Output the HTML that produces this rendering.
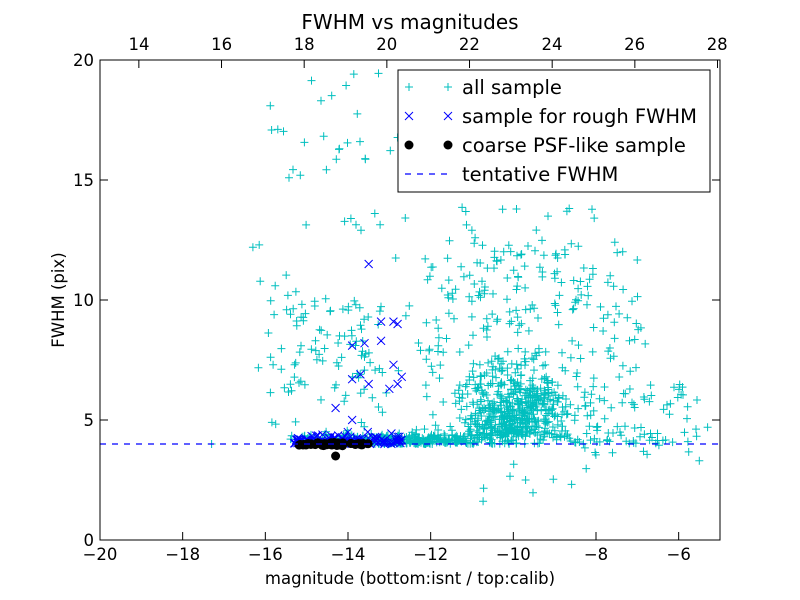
<!DOCTYPE html>
<html><head><meta charset="utf-8"><style>
html,body{margin:0;padding:0;background:#fff;}
svg{display:block;font-family:"DejaVu Sans","Liberation Sans",sans-serif;}
</style></head><body>
<svg id="s" width="800" height="600" viewBox="0 0 800 600" xmlns="http://www.w3.org/2000/svg">
<rect width="800" height="600" fill="#fff"/>
<g id="pts"></g>
<line x1="100" y1="444" x2="720" y2="444" stroke="#0000ff" stroke-width="1.2" stroke-dasharray="6,6"/>
<rect x="100" y="60" width="620" height="480" fill="none" stroke="#000" stroke-width="1"/>
<g id="ticks" stroke="#000" stroke-width="1"></g>
<g font-size="16.5" fill="#000" text-anchor="middle">
<text x="100" y="560">−20</text><text x="182.7" y="560">−18</text><text x="265.3" y="560">−16</text><text x="348" y="560">−14</text><text x="430.7" y="560">−12</text><text x="513.3" y="560">−10</text><text x="596" y="560">−8</text><text x="678.7" y="560">−6</text>
<text x="139" y="50">14</text><text x="221.6" y="50">16</text><text x="304.2" y="50">18</text><text x="386.8" y="50">20</text><text x="469.4" y="50">22</text><text x="552" y="50">24</text><text x="634.6" y="50">26</text><text x="717.2" y="50">28</text>
</g>
<g font-size="16.5" fill="#000" text-anchor="end">
<text x="94" y="546">0</text><text x="94" y="426">5</text><text x="94" y="306">10</text><text x="94" y="186">15</text><text x="94" y="66">20</text>
</g>
<text x="410" y="29" font-size="20" text-anchor="middle">FWHM vs magnitudes</text>
<text x="410" y="584" font-size="16.5" text-anchor="middle">magnitude (bottom:isnt / top:calib)</text>
<text x="64" y="300" font-size="16.5" text-anchor="middle" transform="rotate(-90 64 300)">FWHM (pix)</text>
<rect x="398" y="70" width="312" height="122" fill="#fff" stroke="#000" stroke-width="1"/>
<g stroke="#00bfbf" stroke-width="1"><path d="M405 87h8M409 83v8M444 87h8M448 83v8"/></g>
<g stroke="#0000ff" stroke-width="1"><path d="M405 112l8 8M413 112l-8 8M444 112l8 8M452 112l-8 8"/></g>
<circle cx="409" cy="145" r="4.5" fill="#000"/><circle cx="448" cy="145" r="4.5" fill="#000"/>
<line x1="405" y1="174" x2="452" y2="174" stroke="#0000ff" stroke-width="1.2" stroke-dasharray="6,6"/>
<g font-size="19.5" fill="#000">
<text x="462" y="94">all sample</text><text x="462" y="123">sample for rough FWHM</text><text x="462" y="152">coarse PSF-like sample</text><text x="462" y="181">tentative FWHM</text>
</g>
</svg>
<script>
(function(){
var s=12345;function r(){s=(s*1103515245+12345)%2147483648;return s/2147483648;}
function g(){return (r()+r()+r()+r()-2)/1.15;}
function X(v){return 100+(v+20)*41.333;}function Y(v){return 540-v*24;}
var d='',b='',c='';
function plus(x,y){if(x<-20||x>-5||y<0||y>20)return;var px=X(x),py=Y(y);d+='M'+(px-4).toFixed(1)+' '+py.toFixed(1)+'h8M'+px.toFixed(1)+' '+(py-4).toFixed(1)+'v8';}
function cross(x,y){var px=X(x),py=Y(y);b+='M'+(px-4)+' '+(py-4)+'l8 8M'+(px+4)+' '+(py-4)+'l-8 8';}
var i;
for(i=0;i<90;i++){plus(-16.2+r()*3.7,4+Math.pow(r(),1.4)*15.5);}
for(i=0;i<60;i++){plus(-16+r()*3,6+r()*4);}
for(i=0;i<500;i++){plus(-10+g()*1.2,4.3+Math.abs(g())*2.8);}
for(i=0;i<220;i++){plus(-12.3+r()*5.5,4+r()*8.5);}
for(i=0;i<50;i++){plus(-11.5+r()*3.5,9+r()*5);}
for(i=0;i<300;i++){plus(-12.5+g()*2.3,4+Math.abs(g())*0.4);}
for(i=0;i<80;i++){plus(-15.5+r()*9.5,4+Math.abs(g())*0.4);}
for(i=0;i<60;i++){plus(-9+r()*3.5,3.5+r()*3);}
for(i=0;i<10;i++){plus(-11+r()*3,1.5+r()*2.5);}
plus(-17.3,4);plus(-16.3,12.2);plus(-5.3,4.7);plus(-5.5,3.3);
for(i=0;i<120;i++){cross(-15.3+r()*2.6,4.0+Math.abs(g())*0.35);}
var bx=[[-13.5,11.5],[-13.2,9.1],[-12.9,9.1],[-12.8,9],[-13.6,8.2],[-13.2,8.3],[-13.9,8.1],[-13.7,6.9],[-13.9,6.7],[-13.5,6.5],[-13,6.3],[-12.8,6.5],[-12.9,7.3],[-12.7,6.8],[-14.3,5.5],[-13.9,5]];
bx.forEach(function(p){cross(p[0],p[1]);});
for(i=0;i<45;i++){var x=-15.2+r()*1.7,y=4+g()*0.06;c+='<circle cx="'+X(x).toFixed(1)+'" cy="'+Y(y).toFixed(1)+'" r="4.5"/>';}
c+='<circle cx="'+X(-14.3)+'" cy="'+Y(3.5)+'" r="4.5"/>';
document.getElementById('pts').innerHTML='<path d="'+d+'" stroke="#00bfbf" stroke-width="1" fill="none"/><path d="'+b+'" stroke="#0000ff" stroke-width="1" fill="none"/><g fill="#000">'+c+'</g>';
var t='';
[-20,-18,-16,-14,-12,-10,-8,-6].forEach(function(v){var x=X(v);t+='<line x1="'+x+'" y1="540" x2="'+x+'" y2="532"/>';});
[14,16,18,20,22,24,26,28].forEach(function(v){var x=X(v-33.06);t+='<line x1="'+x+'" y1="60" x2="'+x+'" y2="68"/>';});
[0,5,10,15,20].forEach(function(v){var y=Y(v);t+='<line x1="100" y1="'+y+'" x2="108" y2="'+y+'"/><line x1="720" y1="'+y+'" x2="712" y2="'+y+'"/>';});
document.getElementById('ticks').innerHTML=t;
})();
</script>
</body></html>
